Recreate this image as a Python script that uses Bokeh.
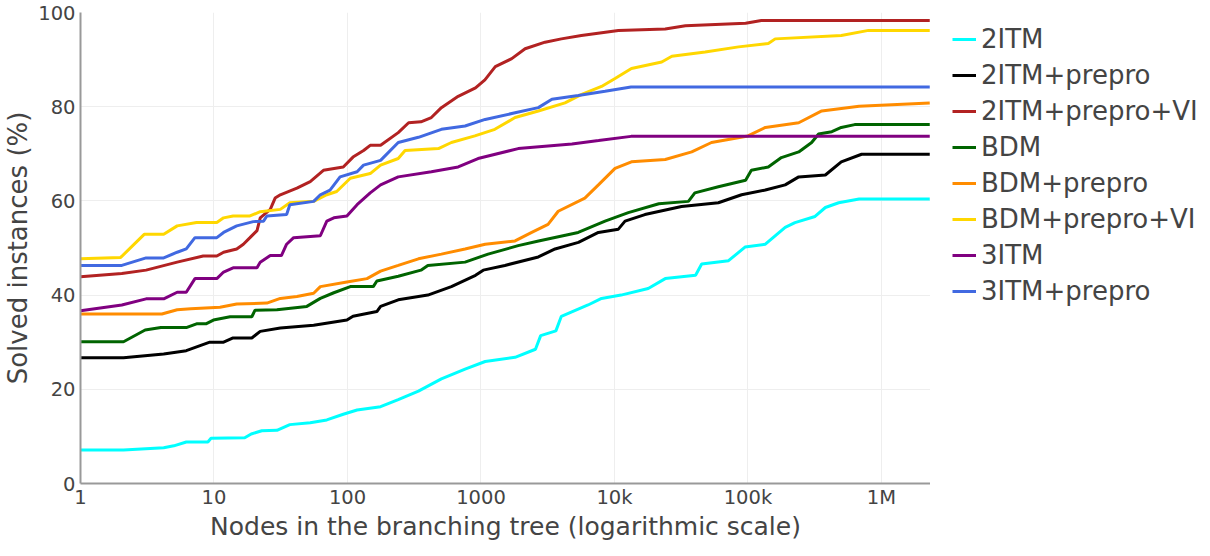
from bokeh.plotting import figure
from bokeh.models import FixedTicker, Legend, LegendItem, Range1d, Label
from bokeh.layouts import row, column
from bokeh.embed import file_html
from bokeh.resources import INLINE

# ---------------- data ----------------
series_names = ["2ITM", "2ITM+prepro", "2ITM+prepro+VI", "BDM", "BDM+prepro",
                "BDM+prepro+VI", "3ITM", "3ITM+prepro"]
series_colors = ["#00FFFF", "#000000", "#B22222", "#006400", "#FF8C00",
                 "#FFD700", "#800080", "#4169E1"]

x_ticks = [1, 10, 100, 1000, 10000, 100000, 1000000]
x_tick_labels = ["1", "10", "100", "1000", "10k", "100k", "1M"]
y_ticks = [0, 20, 40, 60, 80, 100]

x_2itm = [1, 2.1, 4.2, 5, 6.2, 9.0, 9.5, 17, 19, 22.8, 29.6, 37, 52.6, 70, 93, 118,
          177, 240, 340, 505, 760, 1075, 1800, 2560, 2800, 3640, 4000, 6340, 8000,
          11200, 17900, 24000, 40500, 45000, 71500, 95000, 135000, 190000, 225000,
          318000, 380000, 478000, 680000, 2300000]
y_2itm = [7.1, 7.1, 7.6, 8.0, 8.8, 8.8, 9.6, 9.7, 10.5, 11.2, 11.3, 12.5, 12.9, 13.5,
          14.7, 15.6, 16.3, 17.8, 19.6, 22.2, 24.3, 25.9, 26.8, 28.5, 31.4, 32.4,
          35.5, 37.9, 39.3, 40.0, 41.4, 43.5, 44.2, 46.6, 47.3, 50.2, 50.8, 54.4,
          55.4, 56.7, 58.6, 59.6, 60.4, 60.4]

x_2itm_pp = [1, 2.1, 4.2, 6.2, 9.3, 11.8, 13.9, 19.2, 22.2, 31.4, 55.8, 99, 110, 166,
             177, 240, 400, 600, 910, 1040, 1510, 2690, 3590, 5370, 7580, 10700,
             12000, 16900, 31800, 60000, 89600, 135000, 190000, 240000, 380000,
             500000, 710000, 2300000]
y_2itm_pp = [26.7, 26.7, 27.5, 28.2, 30.0, 30.0, 30.9, 30.9, 32.3, 33.0, 33.6, 34.7,
             35.5, 36.5, 37.6, 39.0, 40.0, 41.8, 44.2, 45.3, 46.3, 48.1, 49.8, 51.2,
             53.3, 54.0, 55.7, 57.1, 58.8, 59.6, 61.3, 62.3, 63.4, 65.1, 65.5, 68.3,
             69.9, 69.9]

x_2itm_pp_vi = [1, 2.04, 3.1, 5.3, 8.3, 10.5, 11.8, 14.8, 16.6, 18.6, 21, 22.2, 26.4,
                28.7, 31.4, 41.8, 52.6, 66, 93, 110, 132, 148, 177, 240, 287, 355,
                425, 505, 675, 910, 1070, 1280, 1700, 2140, 3020, 4000, 5650, 10700,
                24000, 34000, 96000, 126000, 2300000]
y_2itm_pp_vi = [43.9, 44.6, 45.3, 47.0, 48.3, 48.3, 49.1, 49.8, 50.8, 52.2, 53.7, 56.4,
                58.2, 60.6, 61.3, 62.7, 64.1, 66.5, 67.2, 69.3, 70.7, 71.8, 71.8, 74.5,
                76.6, 76.8, 77.7, 79.8, 82.2, 84.0, 85.7, 88.5, 90.2, 92.3, 93.7, 94.4,
                95.1, 96.2, 96.5, 97.2, 97.7, 98.3, 98.3]

x_bdm = [1, 2.1, 3.05, 4.0, 6.2, 7.4, 8.7, 9.9, 13.2, 19.2, 20.3, 29.6, 49.6, 62.6, 79,
         105, 156, 166, 240, 355, 400, 760, 1130, 1900, 2700, 5350, 8500, 12700,
         21500, 35800, 40000, 60000, 96000, 106000, 142000, 178000, 240000, 300000,
         338000, 425000, 500000, 630000, 2300000]
y_bdm = [30.1, 30.1, 32.6, 33.1, 33.1, 33.9, 33.9, 34.7, 35.4, 35.4, 36.8, 36.9, 37.6,
         39.3, 40.5, 41.8, 41.8, 43.0, 44.0, 45.3, 46.3, 47.0, 48.7, 50.5, 51.5, 53.3,
         55.7, 57.5, 59.4, 59.9, 61.7, 63.0, 64.4, 66.5, 67.2, 69.2, 70.4, 72.4, 74.2,
         74.7, 75.6, 76.2, 76.2]

x_bdm_pp = [1, 4.07, 5.3, 6.7, 11.1, 14.8, 24.9, 31.4, 41.8, 55.8, 62.6, 99, 140, 177,
            240, 340, 505, 760, 1075, 1800, 2400, 3180, 3790, 6000, 7580, 10100, 13400,
            24000, 37900, 53300, 100000, 135000, 240000, 357000, 680000, 2300000]
y_bdm_pp = [36.0, 36.0, 36.9, 37.1, 37.4, 38.1, 38.3, 39.3, 39.7, 40.4, 41.8, 42.8,
            43.5, 45.1, 46.3, 47.7, 48.7, 49.8, 50.8, 51.5, 53.3, 55.0, 57.8, 60.6,
            63.4, 66.9, 68.3, 68.8, 70.4, 72.4, 73.8, 75.6, 76.6, 79.1, 80.1, 80.8]

x_bdm_pp_vi = [1, 2, 3, 4.2, 5.3, 7.4, 10.5, 11.8, 13.9, 18.6, 22.2, 31.4, 37, 55.8,
               70, 83, 105, 148, 177, 240, 270, 480, 600, 900, 1270, 1800, 2690, 4260,
               5680, 8000, 10100, 13400, 22600, 26900, 47800, 85000, 142000, 160000,
               500000, 800000, 2300000]
y_bdm_pp_vi = [47.7, 48.0, 52.9, 52.9, 54.7, 55.4, 55.4, 56.4, 56.8, 56.8, 57.7, 58.2,
               59.6, 59.9, 61.3, 62.0, 64.8, 65.8, 67.6, 69.0, 70.7, 71.1, 72.4, 73.8,
               75.2, 77.7, 79.1, 80.8, 82.6, 84.3, 86.0, 88.1, 89.5, 90.7, 91.6, 92.7,
               93.4, 94.4, 95.1, 96.2, 96.2]

x_3itm = [1, 2.04, 3.1, 4.2, 5.3, 6.2, 7.2, 10.5, 11.8, 13.9, 21, 22.2, 26.4, 32, 35,
          39.5, 62.6, 70, 79, 99, 118, 148, 177, 240, 425, 675, 950, 1900, 4800, 7600,
          13300, 2300000]
y_3itm = [36.7, 37.9, 39.2, 39.2, 40.6, 40.6, 43.5, 43.5, 44.9, 45.8, 45.8, 47.0,
          48.4, 48.4, 50.8, 52.2, 52.6, 55.7, 56.4, 56.8, 59.2, 61.7, 63.4, 65.1,
          66.2, 67.2, 69.0, 71.1, 72.1, 72.8, 73.7, 73.7]

x_3itm_pp = [1, 2.04, 3.1, 4.2, 5.3, 6.2, 7.2, 10.5, 11.8, 14.8, 19.7, 23.5, 24.9, 35,
             37, 55.8, 62.6, 74, 88, 118, 132, 177, 240, 340, 505, 760, 1075, 1800,
             2690, 3400, 5350, 8500, 13300, 2300000]
y_3itm_pp = [46.3, 46.3, 47.9, 47.9, 49.1, 49.8, 52.2, 52.2, 53.3, 54.7, 55.6, 55.7,
             56.8, 57.1, 59.2, 59.9, 61.3, 62.3, 65.1, 66.2, 67.6, 68.6, 72.4, 73.5,
             75.2, 75.9, 77.3, 78.7, 79.8, 81.6, 82.4, 83.3, 84.2, 84.2]

series_x = [x_2itm, x_2itm_pp, x_2itm_pp_vi, x_bdm, x_bdm_pp, x_bdm_pp_vi, x_3itm, x_3itm_pp]
series_y = [y_2itm, y_2itm_pp, y_2itm_pp_vi, y_bdm, y_bdm_pp, y_bdm_pp_vi, y_3itm, y_3itm_pp]

x_title = "Nodes in the branching tree (logarithmic scale)"
y_title = "Solved instances (%)"

# ---------------- layout constants ----------------
FONT = "DejaVu Sans"
TEXT = "#444444"
TOTAL_W, TOTAL_H = 1194, 540
LEFT, TOP, BOTTOM = 74, 12, 27
FRAME_W, FRAME_H = 850, 471
MAIN_H = TOP + FRAME_H + BOTTOM
TITLE_H = TOTAL_H - MAIN_H
LEG_W = TOTAL_W - LEFT - FRAME_W

# ---------------- main plot ----------------
p = figure(frame_width=FRAME_W, frame_height=FRAME_H, x_axis_type="log",
           x_range=Range1d(1, 2.33e6), y_range=Range1d(0, 100),
           output_backend="svg", toolbar_location=None,
           min_border_left=LEFT, min_border_right=0, min_border_top=TOP,
           min_border_bottom=BOTTOM)
p.outline_line_color = None

for xs, ys, c in zip(series_x, series_y, series_colors):
    p.line(xs, ys, line_width=3, line_color=c)

p.xaxis.ticker = FixedTicker(ticks=x_ticks)
p.xaxis.major_label_overrides = {t: l for t, l in zip(x_ticks, x_tick_labels)}
p.yaxis.ticker = FixedTicker(ticks=y_ticks)

for ax in (p.xaxis[0], p.yaxis[0]):
    ax.axis_line_color = "#999999"
    ax.axis_line_width = 2
    ax.major_tick_out = 0
    ax.major_tick_in = 0
    ax.minor_tick_out = 0
    ax.minor_tick_in = 0
    ax.major_tick_line_color = None
    ax.minor_tick_line_color = None
    ax.major_label_text_font = FONT
    ax.major_label_text_font_size = "19.5px"
    ax.major_label_text_color = TEXT
    ax.axis_label_text_font = FONT
    ax.axis_label_text_font_size = "26px"
    ax.axis_label_text_font_style = "normal"
    ax.axis_label_text_color = TEXT

p.xaxis.major_label_standoff = 2
p.yaxis.major_label_standoff = 5
p.yaxis.axis_label = y_title
p.yaxis.axis_label_standoff = 2

p.xgrid.grid_line_color = "#eeeeee"
p.ygrid.grid_line_color = "#eeeeee"

# ---------------- x-axis title strip (frame aligned with the main plot) ----------------
pt = figure(width=LEFT + FRAME_W, height=TITLE_H, x_range=Range1d(0, 1),
            y_range=Range1d(0, 1), output_backend="svg", toolbar_location=None,
            min_border=0, x_axis_location=None, y_axis_location=None)
pt.outline_line_color = None
pt.grid.visible = False
pt.add_layout(Label(x=FRAME_W / 2, y=TITLE_H / 2, x_units="screen", y_units="screen",
                    text=x_title, text_align="center", text_baseline="middle",
                    text_font=FONT, text_font_size="25px", text_color=TEXT))

# ---------------- legend strip ----------------
# the series are drawn again here only so the legend has glyphs; the ranges keep them out of view
pl = figure(width=LEG_W, height=TOTAL_H, x_range=Range1d(-3, -2), y_range=Range1d(-3, -2),
            output_backend="svg", toolbar_location=None, min_border=0,
            x_axis_location=None, y_axis_location=None)
pl.outline_line_color = None
pl.grid.visible = False
leg_renderers = [pl.line(xs, ys, line_width=3, line_color=c)
                 for xs, ys, c in zip(series_x, series_y, series_colors)]
items = [LegendItem(label=n, renderers=[r]) for n, r in zip(series_names, leg_renderers)]
legend = Legend(items=items, location=(22, 234))
legend.border_line_color = None
legend.background_fill_alpha = 0
legend.padding = 0
legend.margin = 0
legend.spacing = 6
legend.glyph_width = 24
legend.glyph_height = 30
legend.label_height = 30
legend.label_standoff = 5
legend.label_text_font = FONT
legend.label_text_font_size = "26px"
legend.label_text_color = TEXT
pl.add_layout(legend)

layout = row(column(p, pt, spacing=0), pl, spacing=0)
open("out.html", "w").write(file_html(layout, INLINE))
